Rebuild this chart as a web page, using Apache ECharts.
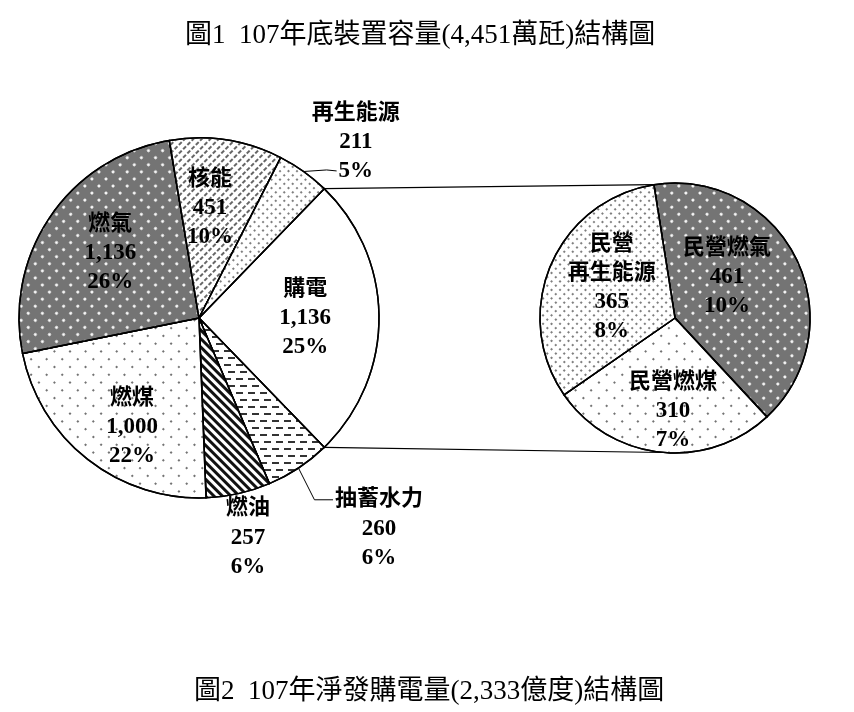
<!DOCTYPE html>
<html>
<head>
<meta charset="utf-8">
<script src="https://cdn.jsdelivr.net/npm/echarts@6/dist/echarts.min.js"></script>
<style>
html,body{margin:0;padding:0;background:#fff;}
#chart{width:854px;height:712px;}
</style>
</head>
<body>
<div id="chart"></div>
<script>
// ---- data ----
const mainNames = ['購電', '抽蓄水力', '燃油', '燃煤', '燃氣', '核能', '再生能源'];
const mainValues = [1136, 260, 257, 1000, 1136, 451, 211];
const mainPct = [25, 6, 6, 22, 26, 10, 5];
const subNames = ['民營燃氣', '民營燃煤', '民營再生能源'];
const subLabels = ['民營燃氣', '民營燃煤', '民營\n再生能源'];
const subValues = [461, 310, 365];
const subPct = [10, 7, 8];
const title1 = '圖1  107年底裝置容量(4,451萬瓩)結構圖';
const title2 = '圖2  107年淨發購電量(2,333億度)結構圖';

// ---- geometry & styles ----
const FONT = "'Liberation Serif', 'Noto Sans CJK TC', serif";
const LH = 29;
const mainCenter = [199, 318], mainR = 180;
const subCenter = [675, 318], subR = 135;
const subStart = 99;
const mainSum = mainValues.reduce((a, b) => a + b, 0);
const mainStart = 360 * mainValues[0] / mainSum / 2;

// label placement: [angle deg, radius fraction] of label block centre, relative to pie centre
const mainPlace = [[0, 0.59], [-49.5, 1.54], [-77.4, 1.25], [238.4, 0.71], [143.9, 0.61], [84.3, 0.614], [48.3, 1.31]];
const mainLine = [false, true, false, false, false, false, true];
const subPlace = [[38.3, 0.49], [-91.2, 0.69], [154.5, 0.52]];

const decals = {
  gas: {symbol: 'circle', symbolSize: 1, color: '#ffffff',
        dashArrayX: [2.4, 6.2], dashArrayY: [2.4, 6.2], rotation: Math.PI / 4},
  coal: {symbol: 'circle', symbolSize: 1, color: '#444',
        dashArrayX: [1.8, 8.2], dashArrayY: [1.8, 8.2], rotation: Math.PI / 4},
  renew: {symbol: 'circle', symbolSize: 1, color: '#555',
        dashArrayX: [1.7, 3.1], dashArrayY: [1.7, 3.1], rotation: Math.PI / 4},
  oil: {symbol: 'rect', symbolSize: 1, color: '#111',
        dashArrayX: [1, 0], dashArrayY: [2.2, 2.4], rotation: Math.PI / 4},
  nuclear: {symbol: 'rect', symbolSize: 1, color: '#666',
        dashArrayX: [4, 2], dashArrayY: [1.2, 3.2], rotation: -Math.PI / 4},
  hydro: {symbol: 'rect', symbolSize: 1, color: '#333',
        dashArrayX: [[7, 5], [3, 5, 4, 0]], dashArrayY: [2, 4.5]},
  none: {symbol: 'none'}
};
const mainStyle = [
  {color: '#ffffff', decal: decals.none},
  {color: '#ffffff', decal: decals.hydro},
  {color: '#ffffff', decal: decals.oil},
  {color: '#ffffff', decal: decals.coal},
  {color: '#747474', decal: decals.gas},
  {color: '#ffffff', decal: decals.nuclear},
  {color: '#ffffff', decal: decals.renew}
];
const subStyle = [
  {color: '#747474', decal: decals.gas},
  {color: '#ffffff', decal: decals.coal},
  {color: '#ffffff', decal: decals.renew}
];

const rich = {
  c: {fontFamily: FONT, fontWeight: 'bold', fontSize: 22, lineHeight: LH, color: '#000', align: 'center'},
  n: {fontFamily: FONT, fontWeight: 'bold', fontSize: 23, lineHeight: LH, color: '#000', align: 'center'}
};
function fmt(v) { return v.toLocaleString('en-US'); }
function labelText(name, v, pct) {
  return name.split('\n').map(s => '{c|' + s + '}').join('\n') + '\n{n|' + fmt(v) + '}\n{n|' + pct + '%}';
}
const measureCtx = document.createElement('canvas').getContext('2d');
function textW(s, size) {
  measureCtx.font = 'bold ' + size + 'px ' + FONT;
  return measureCtx.measureText(s).width;
}

function polar(c, r, deg) {
  const a = deg * Math.PI / 180;
  return [c[0] + r * Math.cos(a), c[1] - r * Math.sin(a)];
}
function midAngles(values, start) {
  const sum = values.reduce((a, b) => a + b, 0);
  let cur = start;
  return values.map(v => {
    const span = 360 * v / sum;
    const m = cur - span / 2;
    cur -= span;
    return m;
  });
}
const mainMid = midAngles(mainValues, mainStart);

const mainData = mainNames.map((n, i) => ({
  name: n, value: mainValues[i],
  itemStyle: Object.assign({borderColor: '#000', borderWidth: 1.5}, mainStyle[i]),
  label: {position: 'outside', formatter: labelText(n, mainValues[i], mainPct[i]), rich: rich},
  labelLine: {show: mainLine[i], lineStyle: {color: '#000', width: 1}}
}));
const subData = subNames.map((n, i) => ({
  name: n, value: subValues[i],
  itemStyle: Object.assign({borderColor: '#000', borderWidth: 1.5}, subStyle[i]),
  label: {position: 'outside', formatter: labelText(subLabels[i], subValues[i], subPct[i]), rich: rich},
  labelLine: {show: false}
}));

function mainLayout(p) {
  const i = p.dataIndex;
  const pl = mainPlace[i];
  const c = polar(mainCenter, mainR * pl[1], pl[0]);
  const res = {x: c[0], y: c[1], align: 'center', verticalAlign: 'middle'};
  if (mainLine[i]) {
    const edge = polar(mainCenter, mainR, mainMid[i]);
    if (i === 1) {
      const y = c[1] - LH;
      const left = c[0] - textW(mainNames[i], 22) / 2 - 2;
      res.labelLinePoints = [edge, [edge[0] + 16, y], [left, y]];
    } else {
      const y = c[1] + LH;
      const left = c[0] - textW(mainPct[i] + '%', 23) / 2 - 2;
      res.labelLinePoints = [edge, [left - 10, y - 1], [left, y]];
    }
  }
  return res;
}
function subLayout(p) {
  const pl = subPlace[p.dataIndex];
  const c = polar(subCenter, subR * pl[1], pl[0]);
  return {x: c[0], y: c[1], align: 'center', verticalAlign: 'middle'};
}

// connector lines between pies, derived from pie geometry
const mainEnd = mainStart - 360 * mainValues[0] / mainSum;
const pTopA = polar(mainCenter, mainR, mainStart);
const pBotA = polar(mainCenter, mainR, mainEnd);
const pTopB = polar(subCenter, subR, subStart);
const pBotB = polar(subCenter, subR, 265);

const chart = echarts.init(document.getElementById('chart'));
chart.setOption({
  backgroundColor: '#ffffff',
  animation: false,
  title: [
    {text: title1, left: 180, top: 17,
     textStyle: {fontFamily: FONT, fontWeight: 'normal', fontSize: 27, color: '#000'}},
    {text: title2, left: 189, top: 673,
     textStyle: {fontFamily: FONT, fontWeight: 'normal', fontSize: 27, color: '#000'}}
  ],
  graphic: [
    {type: 'line', shape: {x1: pTopA[0], y1: pTopA[1], x2: pTopB[0], y2: pTopB[1]},
     style: {stroke: '#000', lineWidth: 1.2}, z: 10},
    {type: 'line', shape: {x1: pBotA[0], y1: pBotA[1], x2: pBotB[0], y2: pBotB[1]},
     style: {stroke: '#000', lineWidth: 1.2}, z: 10}
  ],
  series: [
    {type: 'pie', center: mainCenter, radius: mainR, startAngle: mainStart, clockwise: true,
     data: mainData, emphasis: {disabled: true}, avoidLabelOverlap: false, labelLayout: mainLayout},
    {type: 'pie', center: subCenter, radius: subR, startAngle: subStart, clockwise: true,
     data: subData, emphasis: {disabled: true}, avoidLabelOverlap: false, labelLayout: subLayout}
  ]
});
</script>
</body>
</html>
